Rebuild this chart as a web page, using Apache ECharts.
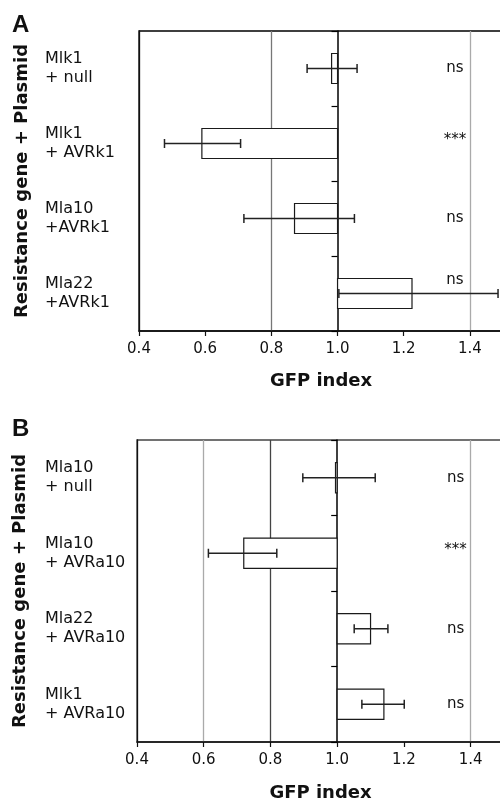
<!DOCTYPE html>
<html>
<head>
<meta charset="utf-8">
<script src="https://cdn.jsdelivr.net/npm/echarts@6/dist/echarts.min.js"></script>
<style>html,body{margin:0;padding:0;background:#fff;}#c{width:500px;height:803px;}</style>
</head>
<body>
<div id="c"></div>
<script>
// ---- Panel A data ----
const catsA = ['Mlk1\n+ null', 'Mlk1\n+ AVRk1', 'Mla10\n+AVRk1', 'Mla22\n+AVRk1'];
const meanA = [0.982, 0.59, 0.87, 1.225];
const lowA  = [0.908, 0.477, 0.717, 1.004];
const highA = [1.059, 0.707, 1.051, 1.485];
const sigA  = ['ns', '***', 'ns', 'ns'];

// ---- Panel B data ----
const catsB = ['Mla10\n+ null', 'Mla10\n+ AVRa10', 'Mla22\n+ AVRa10', 'Mlk1\n+ AVRa10'];
const meanB = [0.995, 0.72, 1.10, 1.14];
const lowB  = [0.897, 0.614, 1.051, 1.074];
const highB = [1.114, 0.819, 1.152, 1.201];
const sigB  = ['ns', '***', 'ns', 'ns'];

// ---- Axis ----
const xMin = 0.4, xMax = 1.5, xStep = 0.2, baseline = 1.0;
const sigX = 1.355;
const yTitle = 'Resistance gene + Plasmid';
const xTitle = 'GFP index';

const FONT = 'DejaVu Sans';
const gridA = {left: 139, top: 31, width: 364, height: 300};
const gridB = {left: 137, top: 440, width: 367, height: 302};

function buildData(mean, low, high) {
  return mean.map((m, i) => [i, m, low[i], high[i]]);
}

function makeRender(sig) {
  return function (params, api) {
    const i = api.value(0);
    const m = api.value(1), lo = api.value(2), hi = api.value(3);
    const pBase = api.coord([baseline, i]);
    const pM = api.coord([m, i]);
    const pLo = api.coord([lo, i]);
    const pHi = api.coord([hi, i]);
    const pSig = api.coord([sigX, i]);
    const h = api.size([0, 1])[1] * 0.4;
    const cy = pBase[1];
    const x0 = Math.min(pBase[0], pM[0]);
    const w = Math.abs(pBase[0] - pM[0]);
    const cap = 4.5;
    let sigDy = hi > sigX - 0.05 ? -13 : 0;
    if (sig[i] === '***') sigDy -= 3;
    return {
      type: 'group',
      children: [
        {type: 'rect', shape: {x: x0, y: cy - h / 2, width: w, height: h},
         style: {fill: '#fff', stroke: '#1a1a1a', lineWidth: 1.2}},
        {type: 'line', shape: {x1: pLo[0], y1: cy, x2: pHi[0], y2: cy},
         style: {stroke: '#222', lineWidth: 1.5}},
        {type: 'line', shape: {x1: pLo[0], y1: cy - cap, x2: pLo[0], y2: cy + cap},
         style: {stroke: '#222', lineWidth: 1.5}},
        {type: 'line', shape: {x1: pHi[0], y1: cy - cap, x2: pHi[0], y2: cy + cap},
         style: {stroke: '#222', lineWidth: 1.5}},
        {type: 'text', x: pSig[0], y: pSig[1] + sigDy,
         style: {text: sig[i], fill: '#111', font: '15px "' + FONT + '"', align: 'center', verticalAlign: 'middle'}}
      ]
    };
  };
}

function xAxisCfg(gridIndex, splitColors, gap) {
  return {
    type: 'value', gridIndex: gridIndex, min: xMin, max: xMax, interval: xStep,
    name: xTitle, nameLocation: 'middle', nameGap: gap,
    nameTextStyle: {fontFamily: FONT, fontWeight: 'bold', fontSize: 18, color: '#111'},
    axisLine: {show: true, lineStyle: {color: '#111', width: 1.5}},
    axisTick: {show: true, inside: false, length: 5, lineStyle: {color: '#111', width: 1.2}},
    axisLabel: {show: true, showMaxLabel: false, fontFamily: FONT, fontSize: 15, color: '#111', margin: 11,
      formatter: v => v.toFixed(1)},
    splitLine: {show: true, lineStyle: {color: splitColors, width: 1.3}}
  };
}

function yLabelAxis(gridIndex, cats, margin) {
  return {
    type: 'category', gridIndex: gridIndex, data: cats, inverse: true,
    name: yTitle, nameLocation: 'middle', nameGap: 108,
    nameTextStyle: {fontFamily: FONT, fontWeight: 'bold', fontSize: 18, color: '#111'},
    axisLine: {show: true, lineStyle: {color: '#111', width: 1.3}},
    axisTick: {show: false},
    axisLabel: {show: true, align: 'left', margin: margin, fontFamily: FONT, fontSize: 16, lineHeight: 19, color: '#111'},
    splitLine: {show: false}
  };
}

function yBaseAxis(gridIndex, cats) {
  return {
    type: 'category', gridIndex: gridIndex, data: cats, inverse: true, position: 'left', offset: 0,
    axisLine: {show: true, lineStyle: {color: '#000', width: 1.5}},
    axisTick: {show: true, inside: false, length: 6, lineStyle: {color: '#000', width: 1.2}},
    axisLabel: {show: false},
    splitLine: {show: false}
  };
}

const chart = echarts.init(document.getElementById('c'), null, {renderer: 'canvas'});
const gridCommon = {show: true, borderWidth: 1.3, backgroundColor: 'transparent', containLabel: false, outerBoundsMode: 'none'};
const option = {
  backgroundColor: '#fff',
  animation: false,
  grid: [
    Object.assign({}, gridCommon, {borderColor: '#000'}, gridA),
    Object.assign({}, gridCommon, {borderColor: '#444'}, gridB)
  ],
  xAxis: [
    xAxisCfg(0, ['transparent', 'transparent', '#777', 'transparent', 'transparent', '#aaa', 'transparent'], 41),
    xAxisCfg(1, ['transparent', '#aaa', '#444', 'transparent', 'transparent', '#aaa', 'transparent'], 42)
  ],
  yAxis: [
    yLabelAxis(0, catsA, 94), yBaseAxis(0, catsA),
    yLabelAxis(1, catsB, 92), yBaseAxis(1, catsB)
  ],
  graphic: [
    {type: 'text', left: 12, top: 13, style: {text: 'A', font: 'bold 24px "Liberation Sans"', fill: '#111'}},
    {type: 'text', left: 12, top: 417, style: {text: 'B', font: 'bold 24px "Liberation Sans"', fill: '#111'}}
  ],
  series: [
    {type: 'custom', coordinateSystem: 'cartesian2d', xAxisIndex: 0, yAxisIndex: 0, z: 5,
     data: buildData(meanA, lowA, highA), renderItem: makeRender(sigA), encode: {x: [1, 2, 3], y: 0}},
    {type: 'custom', coordinateSystem: 'cartesian2d', xAxisIndex: 1, yAxisIndex: 2, z: 5,
     data: buildData(meanB, lowB, highB), renderItem: makeRender(sigB), encode: {x: [1, 2, 3], y: 0}}
  ]
};
chart.setOption(option);
const xA = chart.convertToPixel({xAxisIndex: 0}, baseline);
const xB = chart.convertToPixel({xAxisIndex: 1}, baseline);
chart.setOption({yAxis: [{}, {offset: gridA.left - xA}, {}, {offset: gridB.left - xB}]});
</script>
</body>
</html>
